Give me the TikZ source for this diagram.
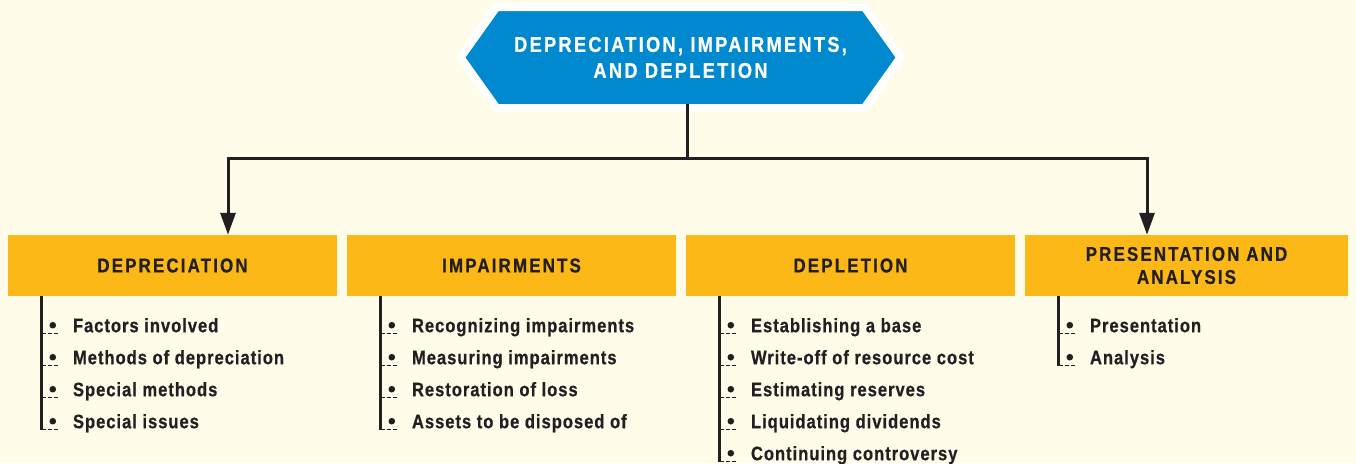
\documentclass[tikz,border=0pt]{standalone}
\usepackage{fontspec}
\setmainfont{Liberation Sans}[FakeStretch=0.85,LetterSpace=5,BoldFeatures={FakeBold=0.6}]
\newfontfamily\capsfont{Liberation Sans}[FakeStretch=0.85,LetterSpace=10.5,BoldFeatures={FakeBold=0.6}]
\usetikzlibrary{arrows.meta,shapes.symbols,positioning}

\definecolor{cream}{HTML}{FFFCE9}
\definecolor{tblue}{HTML}{0089CF}
\definecolor{torange}{HTML}{FBB817}
\definecolor{ink}{HTML}{231F20}

\tikzset{
  titlebox/.style={signal, signal to=west and east, signal pointer angle=109,
    fill=tblue, draw=white, line width=8pt, minimum width=440pt, minimum height=101pt,
    inner sep=0pt, outer sep=0pt, text=white, align=center,
    font=\capsfont\bfseries\fontsize{21.5}{26}\selectfont},
  headbox/.style={fill=torange, minimum width=329pt, minimum height=61pt,
    inner sep=0pt, text=ink, align=center,
    font=\capsfont\bfseries\fontsize{20}{23}\selectfont},
  link/.style={ink, line width=3pt},
  listline/.style={ink, line width=3pt},
  tick/.style={ink, line width=1pt, dash pattern=on 4pt off 2pt},
  itemtext/.style={text=ink, inner sep=0pt, font=\bfseries\fontsize{19.5}{23}\selectfont},
}

\begin{document}
\begin{tikzpicture}[x=1pt,y=-1pt]
  % 背景
  \fill[cream] (0,0) rectangle (1356,463);
  \useasboundingbox (0,0) rectangle (1356,463);
  % タイトル（六角形）
  \node[titlebox] (title) at (680.5,57.5) {DEPRECIATION, IMPAIRMENTS,\\AND DEPLETION};
  % 見出しの箱
  \node[headbox] (dep) at (172.5,265.5) {DEPRECIATION};
  \node[headbox] (imp) at (511.5,265.5) {IMPAIRMENTS};
  \node[headbox] (dpl) at (850.5,265.5) {DEPLETION};
  \node[headbox, minimum width=323pt] (pres) at (1186.5,265.5) {PRESENTATION AND\\ANALYSIS};
  % 矢印
  \coordinate (hub) at (687,158);
  \draw[link] ([yshift=4pt]title.south -| hub) -- (hub);
  \draw[link, -{Triangle[width=15pt,length=22pt]}] (hub) -| ([xshift=55.5pt]dep.north);
  \draw[link, -{Triangle[width=15pt,length=22pt]}] (hub) -| ([xshift=-39.5pt]pres.north);
  % 項目リスト
  \foreach \b/\n/\items in {
      dep/4/{Factors involved,Methods of depreciation,Special methods,Special issues},
      imp/4/{Recognizing impairments,Measuring impairments,Restoration of loss,Assets to be disposed of},
      dpl/5/{Establishing a base,Write-off of resource cost,Estimating reserves,Liquidating dividends,Continuing controversy},
      pres/2/{Presentation,Analysis}} {
    \draw[listline] ([xshift=34pt]\b.south west) -- ++(0,5.5+32*\n);
    \foreach \t [count=\i] in \items {
      \node[itemtext, anchor=base west] (\b-\i) at ([shift={(65,4+32*\i)}]\b.south west) {\t};
      % 黒丸と点線
      \fill[ink] ([shift={(-20,-7)}]\b-\i.base west) circle (3.3pt);
      \draw[tick] ([shift={(34,5+32*\i)}]\b.south west) -- ++(16,0);
    }
  }
\end{tikzpicture}
\end{document}
